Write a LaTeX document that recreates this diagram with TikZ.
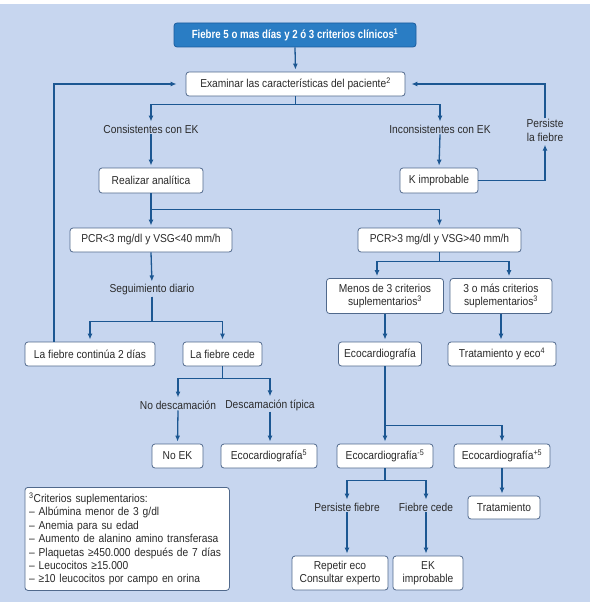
\documentclass[tikz,border=0pt]{standalone}
\usepackage{fontspec}
\setmainfont{Liberation Sans}[FakeStretch=0.89]
\newfontfamily\topfont{Liberation Sans}[FakeStretch=0.82]
\usetikzlibrary{arrows.meta}
\definecolor{bgc}{HTML}{C7D6EF}
\definecolor{linec}{HTML}{1C5792}
\definecolor{boxc}{HTML}{50698C}
\definecolor{topfill}{HTML}{2A7DC4}
\definecolor{topdraw}{HTML}{1A5C9E}
\definecolor{txtc}{HTML}{2A2A2A}
\begin{document}
\begin{tikzpicture}[x=1pt,y=-1pt,
  every node/.style={font=\fontsize{11.5}{13}\selectfont, text=txtc},
  bx/.style={draw=boxc, fill=white, rounded corners=3pt, line width=0.8pt, inner sep=0pt, minimum height=24pt, align=center},
  tx/.style={inner sep=1pt, align=center},
  conn/.style={draw=linec, line width=1.3pt},
  arr/.style={conn, -{Latex[length=6pt,width=5pt]}, shorten >=2pt}
]
\useasboundingbox (0,0) rectangle (592,602);
\fill[white] (0,0) rectangle (592,602);
\fill[bgc] (0,4) rectangle (590,602);

% nodes
\node[bx, draw=topdraw, fill=topfill, minimum width=242pt, text=white, font=\topfont\bfseries\fontsize{11.8}{13}\selectfont] (top) at (295,35) {Fiebre 5 o mas días y 2 ó 3 criterios clínicos\textsuperscript{1}};
\node[bx, minimum width=219pt] (exam) at (295.5,84) {Examinar las características del paciente\textsuperscript{2}};
\node[tx] (cons) at (151,129) {Consistentes con EK};
\node[tx] (incons) at (440,129) {Inconsistentes con EK};
\node[bx, minimum width=104pt, minimum height=25pt] (real) at (151,180.5) {Realizar analítica};
\node[bx, minimum width=78pt, minimum height=25pt] (kimp) at (439,180.5) {K improbable};
\node[tx, font=\fontsize{11.5}{13.5}\selectfont] (pers) at (545,130.5) {Persiste\\la fiebre};
\node[bx, minimum width=162pt] (pcrlo) at (151,240) {PCR<3 mg/dl y VSG<40 mm/h};
\node[bx, minimum width=163pt] (pcrhi) at (439.5,240) {PCR>3 mg/dl y VSG>40 mm/h};
\node[tx] (seg) at (152,290) {Seguimiento diario};
\node[bx, minimum width=130pt] (cont) at (90,354) {La fiebre continúa 2 días};
\node[bx, minimum width=79pt] (cede) at (222.5,354) {La fiebre cede};
\node[bx, minimum width=117pt, minimum height=35pt, font=\fontsize{11.5}{13.5}\selectfont] (menos) at (385,296) {Menos de 3 criterios\\suplementarios\textsuperscript{3}};
\node[bx, minimum width=102pt, minimum height=35pt, font=\fontsize{11.5}{13.5}\selectfont] (mas) at (501,296) {3 o más criterios\\suplementarios\textsuperscript{3}};
\node[bx, minimum width=83pt] (eco) at (380,354) {Ecocardiografía};
\node[bx, minimum width=108pt] (trat4) at (502,354) {Tratamiento y eco\textsuperscript{4}};
\node[tx] (nodesc) at (178,405) {No descamación};
\node[tx] (desc) at (270,405) {Descamación típica};
\node[bx, minimum width=51pt] (noek) at (177.5,456) {No EK};
\node[bx, minimum width=96pt] (eco5) at (269,456) {Ecocardiografía\textsuperscript{5}};
\node[bx, minimum width=96pt] (ecom) at (385,456) {Ecocardiografía\textsuperscript{-5}};
\node[bx, minimum width=96pt] (ecop) at (502,456) {Ecocardiografía\textsuperscript{+5}};
\node[bx, minimum width=72pt, minimum height=23pt] (trat) at (504,507.5) {Tratamiento};
\node[tx] (persf) at (347,507) {Persiste fiebre};
\node[tx] (fcede) at (426,507) {Fiebre cede};
\node[bx, minimum width=96pt, minimum height=34pt, font=\fontsize{11.5}{13.5}\selectfont] (rep) at (340,573) {Repetir eco\\Consultar experto};
\node[bx, minimum width=70pt, minimum height=34pt, font=\fontsize{11.5}{13.5}\selectfont] (ekimp) at (428,573) {EK\\improbable};
\node[bx, anchor=north west, minimum width=204.5pt, minimum height=103pt, text width=196pt, align=left, inner xsep=4pt, font=\fontsize{11.5}{13.4}\selectfont] (foot) at (24.5,487) {\textsuperscript{3}Criterios suplementarios:\\
– Albúmina menor de 3 g/dl\\
– Anemia para su edad\\
– Aumento de alanino amino transferasa\\
– Plaquetas ≥450.000 después de 7 días\\
– Leucocitos ≥15.000\\
– ≥10 leucocitos por campo en orina};

\coordinate (lx) at (54,0);

% connectors
\draw[arr] (top.south) -- (exam.north);
\draw[arr] (exam.south) -- ++(0,8) -| (cons.north);
\draw[arr] (exam.south) -- ++(0,8) -| (incons.north);
\draw[arr] (cons.south) -- (real.north);
\draw[arr] (incons.south) -- (kimp.north);
\draw[arr] (kimp.east) -| (pers.south);
\draw[arr, shorten >=6pt] (pers.north) |- (exam.east);
\draw[arr, shorten >=9pt] (cont.north -| lx) |- (exam.west);
\draw[arr] (real.south) -- ++(0,16) -| (pcrlo.north);
\draw[arr] (real.south) -- ++(0,16) -| (pcrhi.north);
\draw[arr] (pcrlo.south) -- (seg.north);
\draw[arr] (seg.south) -- ++(0,25) -| (cont.north);
\draw[arr] (seg.south) -- ++(0,25) -| (cede.north);
\draw[arr] (pcrhi.south) -- ++(0,9) -| ([xshift=-8pt]menos.north);
\draw[arr] (pcrhi.south) -- ++(0,9) -| ([xshift=8pt]mas.north);
\draw[arr] (menos.south) -- (menos.south |- eco.north);
\draw[arr] (mas.south) -- (mas.south |- trat4.north);
\draw[arr] (cede.south) -- ++(0,12) -| (nodesc.north);
\draw[arr] (cede.south) -- ++(0,12) -| (desc.north);
\draw[arr] (nodesc.south) -- (noek.north);
\draw[arr] (desc.south) -- (desc.south |- eco5.north);
\draw[arr] (eco.south -| ecom.north) -- (ecom.north);
\draw[arr] (eco.south -| ecom.north) -- ++(0,59) -| (ecop.north);
\draw[arr] (ecom.south) -- ++(0,12) -| (persf.north);
\draw[arr] (ecom.south) -- ++(0,12) -| (fcede.north);
\draw[arr] (ecop.south) -- (ecop.south |- trat.north);
\draw[arr] (persf.south) -- (persf.south |- rep.north);
\draw[arr] (fcede.south) -- (fcede.south |- ekimp.north);
\end{tikzpicture}
\end{document}
